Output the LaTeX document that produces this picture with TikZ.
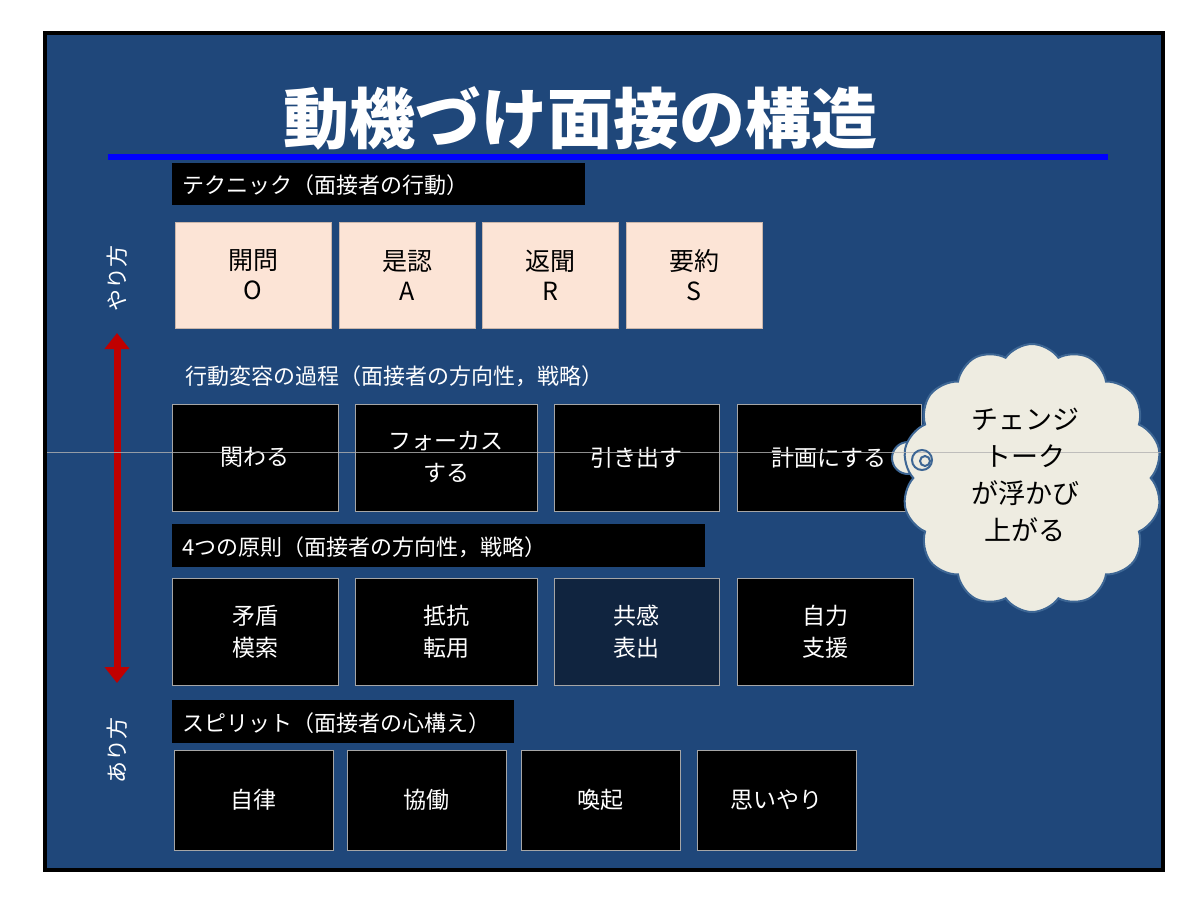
\documentclass[tikz,border=0pt]{standalone}
\usepackage{fontspec}
\newfontfamily\jp{Noto Sans CJK JP}
\newfontfamily\jpm{Noto Sans CJK JP Medium}
\usetikzlibrary{shapes.symbols,arrows.meta}
\definecolor{bg}{HTML}{1F477A}
\definecolor{peach}{HTML}{FCE4D6}
\definecolor{navy}{HTML}{10243F}
\definecolor{cloudf}{HTML}{EEECE1}
\definecolor{cloudd}{HTML}{3D6694}
\definecolor{arr}{HTML}{C00000}
\tikzset{
 hdr/.style={fill=black,text=white,anchor=west,font=\jp\fontsize{22}{25}\selectfont,inner sep=0pt,text depth=0pt},
 pbox/.style={fill=peach,draw=peach!80!black,text=black,font=\jp\fontsize{25}{30}\selectfont,align=center},
 bbox/.style={fill=black,draw=gray!70,line width=1pt,text=white,font=\jp\fontsize{23}{32}\selectfont,align=center},
}
\newcommand{\bx}[6]{\node[#1,minimum width=#4-#3,minimum height=#6-#5] (#2) at ({(#3+#4)/2},{(#5+#6)/2}) {};}
\begin{document}
\begin{tikzpicture}[x=1pt,y=-1pt]
\useasboundingbox (0,0) rectangle (1200,906);
\fill[white] (0,0) rectangle (1200,906);
\draw[fill=bg,line width=4pt] (45,33) rectangle (1163,870);
\node[text=white,font=\jp\bfseries\fontsize{66}{74}\selectfont] (title) at (580,118) {動機づけ面接の構造};
\draw[blue,line width=6pt] (108,157) -- (1108,157);
% headers
\fill[black] (172,163) rectangle (585,205);
\node[hdr] (h1) at (182,184) {テクニック（面接者の行動）};
\node[hdr,fill=none] (h2) at (185,375) {行動変容の過程（面接者の方向性，戦略）};
\fill[black] (172,524) rectangle (705,567);
\node[hdr] (h3) at (182,546) {4つの原則（面接者の方向性，戦略）};
\fill[black] (172,700) rectangle (514,743);
\node[hdr] (h4) at (182,722) {スピリット（面接者の心構え）};
% row 1
\bx{pbox}{a1}{175}{331}{222}{328}\node[pbox,fill=none,draw=none] at (a1) {開問\\O};
\bx{pbox}{a2}{339}{475}{222}{328}\node[pbox,fill=none,draw=none] at (a2) {是認\\A};
\bx{pbox}{a3}{482}{618}{222}{328}\node[pbox,fill=none,draw=none] at (a3) {返聞\\R};
\bx{pbox}{a4}{626}{762}{222}{328}\node[pbox,fill=none,draw=none] at (a4) {要約\\S};
% row 2
\bx{bbox}{b1}{172}{338}{404}{511}\node[bbox,fill=none,draw=none] at (b1) {関わる};
\bx{bbox}{b2}{355}{537}{404}{511}\node[bbox,fill=none,draw=none] at (b2) {フォーカス\\する};
\bx{bbox}{b3}{554}{719}{404}{511}\node[bbox,fill=none,draw=none] at (b3) {引き出す};
\bx{bbox}{b4}{737}{921}{404}{511}\node[bbox,fill=none,draw=none] at (b4) {計画にする};
% row 3
\bx{bbox}{c1}{172}{338}{578}{685}\node[bbox,fill=none,draw=none] at (c1) {矛盾\\模索};
\bx{bbox}{c2}{355}{537}{578}{685}\node[bbox,fill=none,draw=none] at (c2) {抵抗\\転用};
\bx{bbox,fill=navy}{c3}{554}{719}{578}{685}\node[bbox,fill=none,draw=none] at (c3) {共感\\表出};
\bx{bbox}{c4}{737}{913}{578}{685}\node[bbox,fill=none,draw=none] at (c4) {自力\\支援};
% row 4
\bx{bbox}{d1}{174}{333}{750}{850}\node[bbox,fill=none,draw=none] at (d1) {自律};
\bx{bbox}{d2}{347}{506}{750}{850}\node[bbox,fill=none,draw=none] at (d2) {協働};
\bx{bbox}{d3}{521}{680}{750}{850}\node[bbox,fill=none,draw=none] at (d3) {喚起};
\bx{bbox}{d4}{697}{856}{750}{850}\node[bbox,fill=none,draw=none] at (d4) {思いやり};
% left
\node[rotate=90,text=white,font=\jp\fontsize{22}{25}\selectfont] (yari) at (117,278) {やり方};
\node[rotate=90,text=white,font=\jp\fontsize{22}{25}\selectfont] (ari) at (117,750) {あり方};
\coordinate (ta) at (117,333);
\coordinate (tb) at (117,683);
\draw[arr,line width=7pt,{Triangle[length=16pt,width=24pt]}-{Triangle[length=16pt,width=24pt]}] (ta) -- (tb);
% cloud
\draw[cloudd,line width=2pt,fill=cloudf] (908,458) circle (16);
\node[cloud,cloud puffs=14,cloud puff arc=110,aspect=1,fill=cloudf,draw=cloudd,line width=2pt,minimum width=260,minimum height=268,inner sep=0pt] (cl) at (1032,478) {};
\draw[gray!60,line width=0.6pt,opacity=0.8] (47,452) -- (1161,452);
\draw[cloudd,line width=2pt] (922,460) circle (10);
\draw[cloudd,line width=2pt] (925,461) circle (5);
\node[font=\jp\fontsize{27}{37}\selectfont,align=center,text=black] (ct) at (1025,475) {チェンジ\\トーク\\が浮かび\\上がる};
\end{tikzpicture}
\end{document}
